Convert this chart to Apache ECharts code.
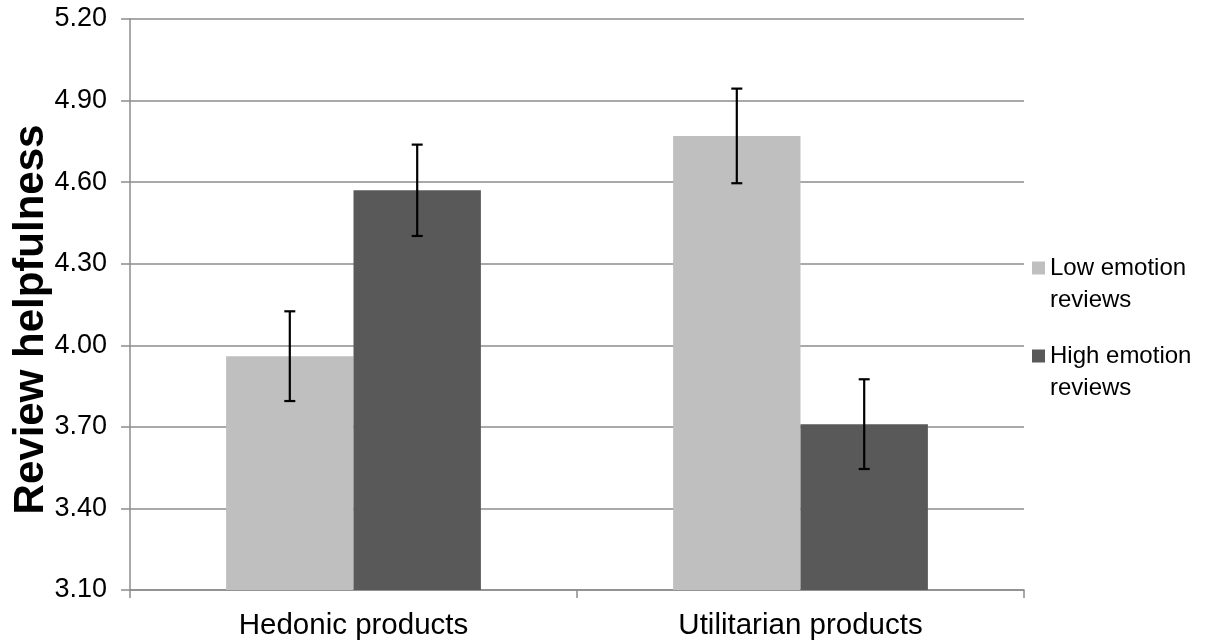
<!DOCTYPE html>
<html>
<head>
<meta charset="utf-8">
<script src="https://cdn.jsdelivr.net/npm/echarts@6/dist/echarts.min.js"></script>
<style>
html,body{margin:0;padding:0;background:#fff;}
#chart{width:1218px;height:643px;}
</style>
</head>
<body>
<div id="chart"></div>
<script>
const categories = ['Hedonic products', 'Utilitarian products'];
const seriesNames = ['Low emotion reviews', 'High emotion reviews'];
const legendLabels = ['Low emotion\nreviews', 'High emotion\nreviews'];
const lowEmotion = [3.96, 4.77];
const highEmotion = [4.57, 3.71];
const lowEmotionErr = [0.165, 0.174];
const highEmotionErr = [0.168, 0.165];
const yTicks = ['3.10', '3.40', '3.70', '4.00', '4.30', '4.60', '4.90', '5.20'];

const FONT = 'Liberation Sans, Arial, sans-serif';
const CAT_GAP = 0.43;

function errData(vals, errs) {
  return vals.map((v, i) => [i, v - errs[i], v + errs[i]]);
}
function errSeries(name, vals, errs, side) {
  return {
    type: 'custom',
    name: name + ' error',
    silent: true,
    z: 10,
    data: errData(vals, errs),
    encode: { x: 0, y: [1, 2] },
    renderItem: function (params, api) {
      const cat = api.value(0);
      const lo = api.coord([cat, api.value(1)]);
      const hi = api.coord([cat, api.value(2)]);
      const band = api.size([1, 0])[0];
      const bw = band * (1 - CAT_GAP) / 2;
      const x = lo[0] + side * bw / 2;
      const cap = 5.5;
      const style = { stroke: '#000', lineWidth: 2.2, fill: null };
      return {
        type: 'group',
        children: [
          { type: 'line', shape: { x1: x, y1: lo[1], x2: x, y2: hi[1] }, style: style },
          { type: 'line', shape: { x1: x - cap, y1: lo[1], x2: x + cap, y2: lo[1] }, style: style },
          { type: 'line', shape: { x1: x - cap, y1: hi[1], x2: x + cap, y2: hi[1] }, style: style }
        ]
      };
    }
  };
}

const chart = echarts.init(document.getElementById('chart'), null, { renderer: 'canvas' });
chart.setOption({
  animation: false,
  backgroundColor: '#ffffff',
  textStyle: { fontFamily: FONT },
  grid: { left: 130, right: 194, top: 19, bottom: 53, containLabel: false, outerBoundsMode: 'none' },
  legend: {
    orient: 'vertical',
    left: 1032,
    top: 220,
    padding: 0,
    itemWidth: 13,
    itemHeight: 13,
    itemGap: -8,
    icon: 'rect',
    data: seriesNames,
    formatter: function (name) { return ' \n' + legendLabels[seriesNames.indexOf(name)]; },
    textStyle: { fontFamily: FONT, fontSize: 24, color: '#000', lineHeight: 32 }
  },
  xAxis: {
    type: 'category',
    data: categories,
    axisLine: { show: true, lineStyle: { color: '#8c8c8c', width: 1.5 } },
    axisTick: { show: true, length: 8, lineStyle: { color: '#8c8c8c', width: 1.5 } },
    axisLabel: { fontFamily: FONT, fontSize: 29.5, color: '#000', margin: 21 },
    splitLine: { show: false }
  },
  yAxis: {
    type: 'value',
    min: 3.1,
    max: 5.2,
    interval: 0.3,
    name: 'Review helpfulness',
    nameLocation: 'middle',
    nameRotate: 90,
    nameGap: 78,
    nameMoveOverlap: false,
    nameTextStyle: { fontFamily: FONT, fontSize: 42, fontWeight: 'bold', color: '#000', padding: [0, 30, 0, 0] },
    axisLine: { show: true, lineStyle: { color: '#8c8c8c', width: 1.5 } },
    axisTick: { show: true, length: 9, lineStyle: { color: '#8c8c8c', width: 1.5 } },
    axisLabel: {
      fontFamily: FONT, fontSize: 27, color: '#000', margin: 23,
      formatter: function (v) {
        const i = Math.round((v - 3.1) / 0.3);
        return yTicks[i] !== undefined ? yTicks[i] : v.toFixed(2);
      }
    },
    splitLine: { show: true, lineStyle: { color: '#8c8c8c', width: 1.5 } }
  },
  series: [
    {
      type: 'bar', name: seriesNames[0], data: lowEmotion,
      barGap: '0%', barCategoryGap: (CAT_GAP * 100) + '%',
      itemStyle: { color: '#bfbfbf' }
    },
    {
      type: 'bar', name: seriesNames[1], data: highEmotion,
      barGap: '0%', barCategoryGap: (CAT_GAP * 100) + '%',
      itemStyle: { color: '#595959' }
    },
    errSeries(seriesNames[0], lowEmotion, lowEmotionErr, -1),
    errSeries(seriesNames[1], highEmotion, highEmotionErr, 1)
  ]
});
</script>
</body>
</html>
